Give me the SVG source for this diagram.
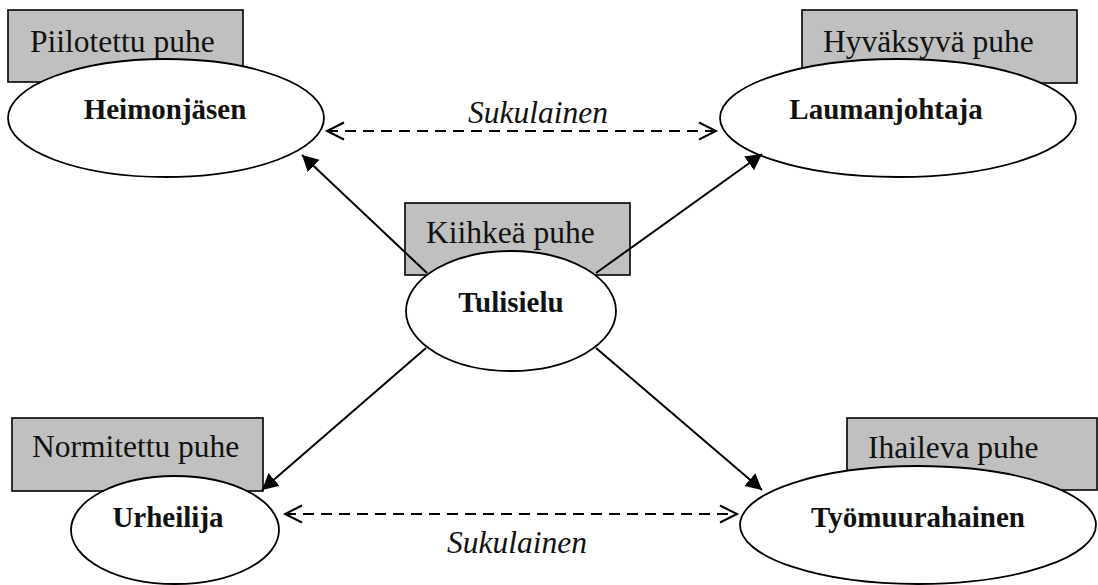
<svg xmlns="http://www.w3.org/2000/svg" width="1098" height="585" viewBox="0 0 1098 585">
<style>
.box{fill:#c0c0c0;stroke:#000;stroke-width:1.6}
.el{fill:#fff;stroke:#000;stroke-width:1.8}
.lbl{font-family:"Liberation Serif",serif;font-size:31.5px;fill:#111}
.nm{font-family:"Liberation Serif",serif;font-size:29px;font-weight:bold;fill:#111;text-anchor:middle}
.rel{font-family:"Liberation Serif",serif;font-size:31.5px;font-style:italic;fill:#111;text-anchor:middle}
.solid{stroke:#000;stroke-width:2;fill:none}
.dash{stroke:#000;stroke-width:2;fill:none;stroke-dasharray:11 7}
</style>
<defs>
<marker id="fa" markerUnits="userSpaceOnUse" markerWidth="20" markerHeight="20" refX="16" refY="8.5" orient="auto">
<path d="M0,0 L16,8.5 L0,17 z" fill="#000" stroke="none"/>
</marker>
<marker id="oa" markerUnits="userSpaceOnUse" markerWidth="22" markerHeight="22" refX="18" refY="10" orient="auto-start-reverse">
<path d="M1,1.5 L18,10 L1,18.5" fill="none" stroke="#000" stroke-width="2" stroke-dasharray="none"/>
</marker>
</defs>
<g id="heimonjasen">
<rect class="box" x="8" y="10" width="235" height="72"/>
<text class="lbl" x="30" y="52">Piilotettu puhe</text>
<ellipse class="el" cx="166" cy="118" rx="158" ry="59"/>
<text class="nm" x="165" y="119">Heimonjäsen</text>
</g>
<g id="laumanjohtaja">
<rect class="box" x="802" y="10" width="275" height="73"/>
<text class="lbl" x="823" y="52">Hyväksyvä puhe</text>
<ellipse class="el" cx="898" cy="118" rx="178" ry="59"/>
<text class="nm" x="886" y="119">Laumanjohtaja</text>
</g>
<g id="tulisielu">
<rect class="box" x="405" y="203" width="225" height="72"/>
<text class="lbl" x="426" y="243">Kiihkeä puhe</text>
<ellipse class="el" cx="511" cy="311" rx="105" ry="60"/>
<text class="nm" x="511" y="312">Tulisielu</text>
</g>
<g id="urheilija">
<rect class="box" x="12" y="418" width="251" height="73"/>
<text class="lbl" x="32" y="457">Normitettu puhe</text>
<ellipse class="el" cx="175" cy="530" rx="104" ry="54"/>
<text class="nm" x="168" y="527">Urheilija</text>
</g>
<g id="tyomuurahainen">
<rect class="box" x="847" y="418" width="250" height="72"/>
<text class="lbl" x="868" y="458">Ihaileva puhe</text>
<ellipse class="el" cx="918" cy="525" rx="178" ry="59"/>
<text class="nm" x="918" y="527">Työmuurahainen</text>
</g>
<g id="connectors">
<line class="solid" x1="427" y1="273" x2="302" y2="155" marker-end="url(#fa)"/>
<line class="solid" x1="596" y1="273" x2="762" y2="154" marker-end="url(#fa)"/>
<line class="solid" x1="426" y1="348" x2="262" y2="490" marker-end="url(#fa)"/>
<line class="solid" x1="596" y1="348" x2="762" y2="490" marker-end="url(#fa)"/>
<line class="dash" x1="327" y1="131" x2="716" y2="131" marker-start="url(#oa)" marker-end="url(#oa)"/>
<text class="rel" x="538" y="123">Sukulainen</text>
<line class="dash" x1="285" y1="514" x2="737" y2="514" marker-start="url(#oa)" marker-end="url(#oa)"/>
<text class="rel" x="517" y="553">Sukulainen</text>
</g>
</svg>
